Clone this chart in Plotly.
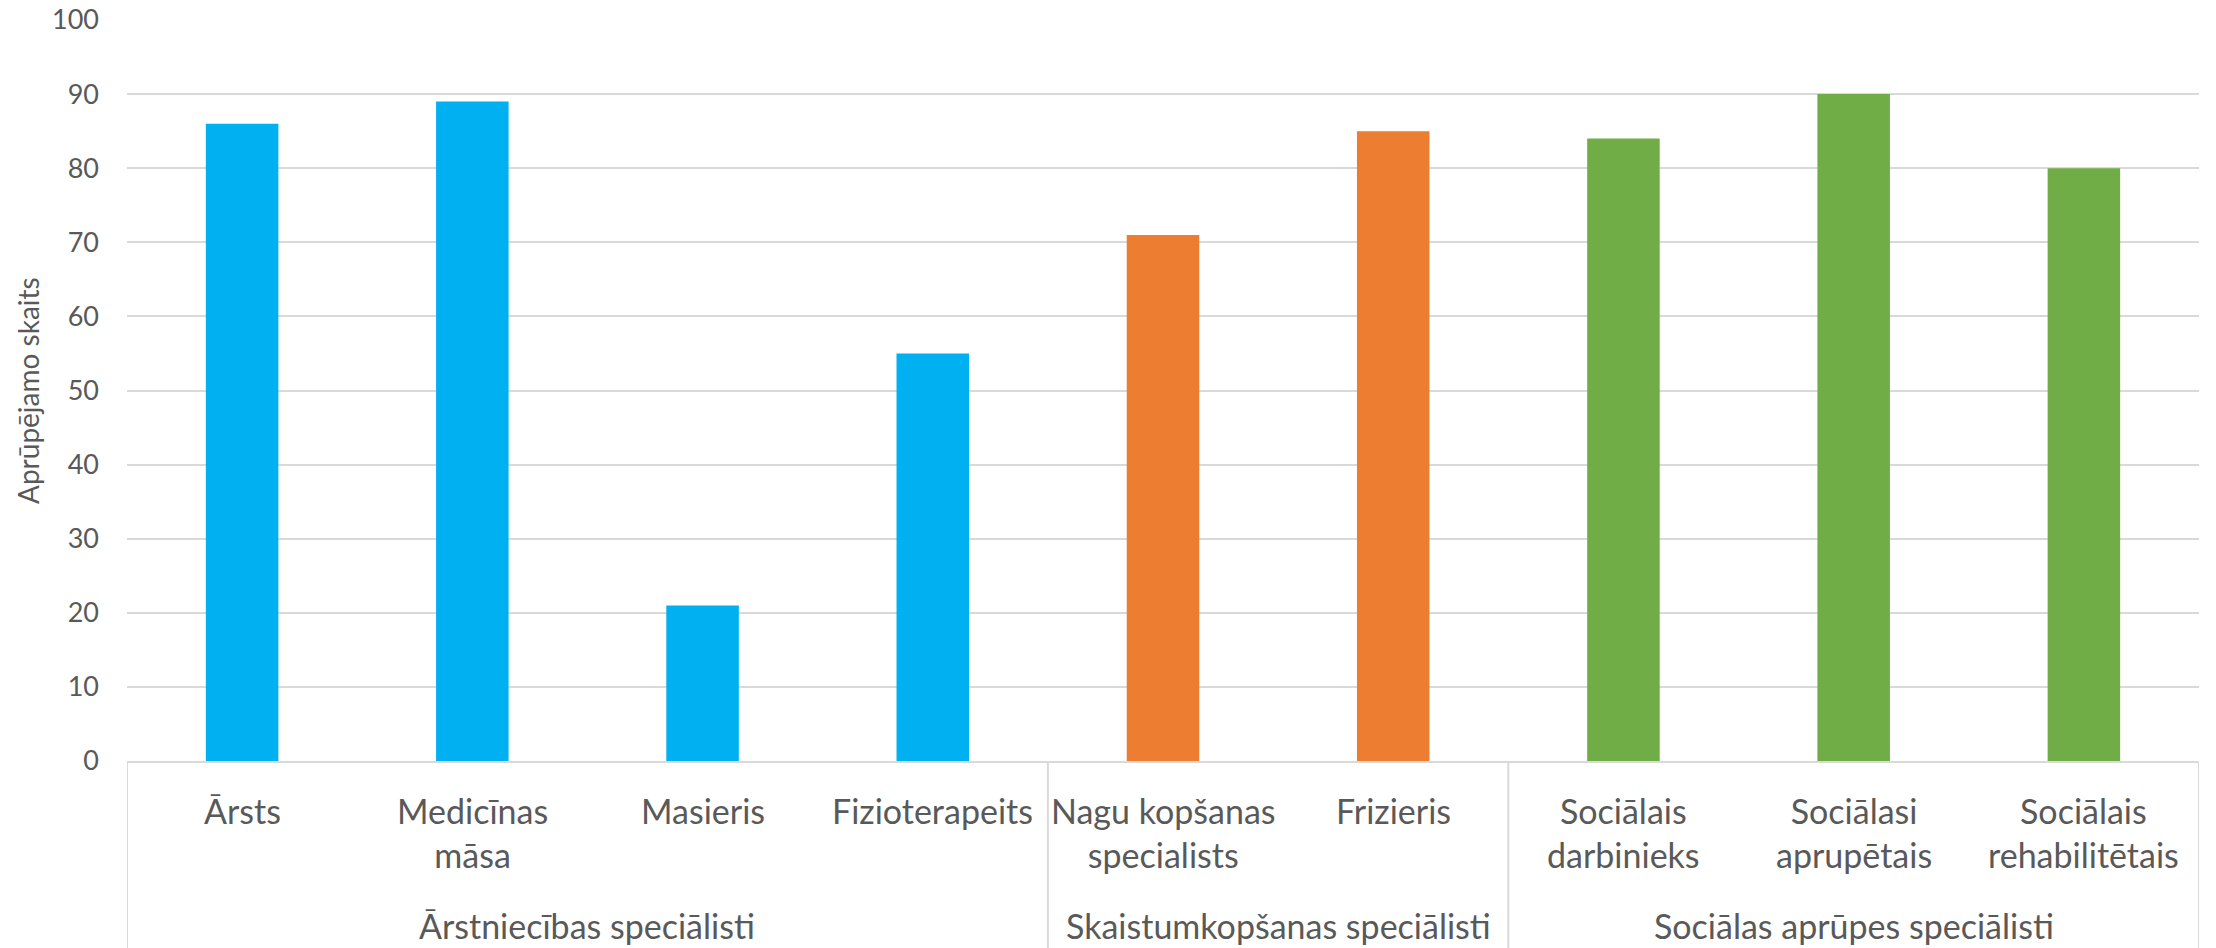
import plotly.graph_objects as go

# ---- data ----
categories = ["Ārsts", "Medicīnas<br>māsa", "Masieris", "Fizioterapeits",
              "Nagu kopšanas<br>specialists", "Frizieris",
              "Sociālais<br>darbinieks", "Sociālasi<br>aprupētais",
              "Sociālais<br>rehabilitētais"]
values = [86, 89, 21, 55, 71, 85, 84, 90, 80]
groups = ["Ārstniecības speciālisti", "Skaistumkopšanas speciālisti",
          "Sociālas aprūpes speciālisti"]
group_sizes = [4, 2, 3]
group_colors = ["#00B0F0", "#ED7D31", "#70AD47"]
y_title = "Aprūpējamo skaits"
y_ticks = [0, 10, 20, 30, 40, 50, 60, 70, 80, 90, 100]

# ---- layout geometry ----
W, H = 2216, 948
L, R, T, B = 127, 17, 20, 187
plot_h = H - T - B
plot_w = W - L - R
FONT = "Lato"
TXT = "#595959"
GRID = "#D9D9D9"


def py(pix):
    return (H - B - pix) / plot_h


def px(pix):
    return (pix - L) / plot_w


bar_colors = []
for c, n in zip(group_colors, group_sizes):
    bar_colors += [c] * n

fig = go.Figure(go.Bar(x=categories, y=values, marker_color=bar_colors,
                       marker_line_width=0, width=0.315))

annotations = []
for cat in categories:
    annotations.append(dict(x=cat, xref="x", y=py(788), yref="paper",
                            yanchor="top", xanchor="center", text=cat,
                            showarrow=False,
                            font=dict(family=FONT, size=34, color=TXT)))

shapes = []
start = 0
bounds = [-0.5]
for g, n in zip(groups, group_sizes):
    center = start + (n - 1) / 2
    annotations.append(dict(x=center, xref="x", y=py(904), yref="paper",
                            yanchor="top", xanchor="center", text=g,
                            showarrow=False, borderpad=0,
                            font=dict(family=FONT, size=34, color=TXT)))
    start += n
    bounds.append(start - 0.5)

for b in bounds:
    shapes.append(dict(type="line", xref="x", x0=b, x1=b, yref="paper",
                       y0=0, y1=py(960), line=dict(color=GRID, width=2)))

annotations.append(dict(x=px(28), xref="paper", y=py(391), yref="paper",
                        xanchor="center", yanchor="middle", text=y_title,
                        textangle=-90, showarrow=False,
                        font=dict(family=FONT, size=28, color=TXT)))

fig.update_layout(
    width=W, height=H,
    margin=dict(l=L, r=R, t=T, b=B, pad=0),
    plot_bgcolor="white", paper_bgcolor="white",
    showlegend=False,
    annotations=annotations, shapes=shapes,
    xaxis=dict(type="category", range=[-0.5, len(categories) - 0.5],
               showticklabels=False, showgrid=False, zeroline=False,
               showline=True, linecolor=GRID, linewidth=2, ticks="",
               automargin=False),
    yaxis=dict(range=[0, 100], tickvals=y_ticks, showgrid=True,
               gridcolor=GRID, gridwidth=2, zeroline=False, showline=False,
               ticks="", ticklabelstandoff=27, automargin=False,
               tickfont=dict(family=FONT, size=27, color=TXT)),
)

fig.write_html("out.html", config={"displayModeBar": False},
               post_script="document.body.style.margin='0';")
